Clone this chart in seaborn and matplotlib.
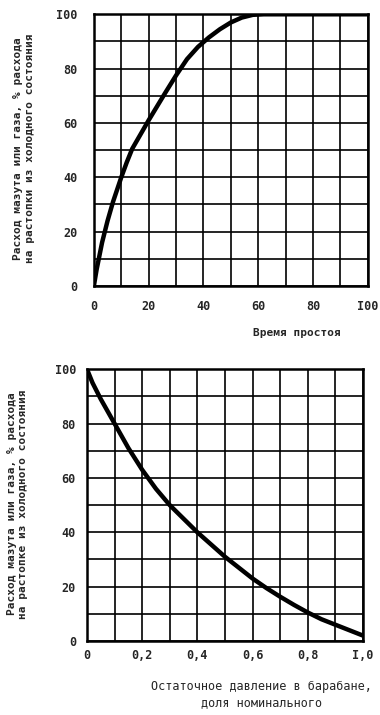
import matplotlib
matplotlib.use("Agg")
import matplotlib.pyplot as plt
import seaborn as sns
import pandas as pd
import numpy as np

# Top chart: idle time vs fuel consumption
idle_time = [0, 1, 2, 3, 5, 7, 10, 12, 14, 16, 18, 20, 23, 26, 30, 34, 38, 42, 46, 50, 54, 58, 62, 70, 80, 90, 100]
fuel_top = [0, 6, 11, 16, 24, 31, 40, 45.5, 50.5, 54, 57.5, 61, 66, 71, 77.5, 83.5, 88, 91.5, 94.5, 97, 98.8, 99.8, 100, 100, 100, 100, 100]
top_xticklabels = ["0", "20", "40", "60", "80", "I00"]
top_yticklabels = ["0", "20", "40", "60", "80", "I00"]

# Bottom chart: residual drum pressure vs fuel consumption
pressure = [0, 0.02, 0.05, 0.075, 0.1, 0.125, 0.15, 0.2, 0.25, 0.3, 0.35, 0.4, 0.45, 0.5,
            0.55, 0.6, 0.65, 0.7, 0.75, 0.8, 0.85, 0.9, 0.95, 1.0]
fuel_bottom = [100, 95, 89, 84.5, 80, 75.5, 71, 63, 56, 50, 45, 40, 35.5, 31,
               27, 23, 19.5, 16.3, 13.3, 10.5, 8, 6, 4, 2]
bot_xticklabels = ["0", "0,2", "0,4", "0,6", "0,8", "I,0"]
bot_yticklabels = ["0", "20", "40", "60", "80", "I00"]

sns.set_theme(style="white")
plt.rcParams['font.family'] = ['DejaVu Sans Mono', 'DejaVu Sans']

fig = plt.figure(figsize=(3.8, 7.15), dpi=100)
ax1 = fig.add_axes([0.247, 0.600, 0.721, 0.380])
ax2 = fig.add_axes([0.229, 0.1035, 0.726, 0.380])

df1 = pd.DataFrame({"t": idle_time, "q": fuel_top})
df2 = pd.DataFrame({"p": pressure, "q": fuel_bottom})

sns.lineplot(data=df1, x="t", y="q", ax=ax1, color="black", linewidth=3.2)
sns.lineplot(data=df2, x="p", y="q", ax=ax2, color="black", linewidth=3.2)

def style(ax, xmax, xlabels, ylabels, xpad, ypad):
    ax.set_xlim(0, xmax)
    ax.set_ylim(0, 100)
    ax.set_xticks(np.linspace(0, xmax, 11))
    ax.set_yticks(np.arange(0, 101, 10))
    xl = [xlabels[i // 2] if i % 2 == 0 else "" for i in range(11)]
    yl = [ylabels[i // 2] if i % 2 == 0 else "" for i in range(11)]
    ax.set_xticklabels(xl, fontsize=8.5, fontweight="bold")
    ax.set_yticklabels(yl, fontsize=8.5, fontweight="bold")
    ax.grid(True, color="black", linewidth=1.2)
    ax.tick_params(axis="both", length=0)
    ax.tick_params(axis="x", pad=xpad)
    ax.tick_params(axis="y", pad=ypad)
    for s in ax.spines.values():
        s.set_color("black")
        s.set_linewidth(1.8)
    ax.set_xlabel("")
    ax.set_ylabel("")

style(ax1, 100, top_xticklabels, top_yticklabels, 10, 12)
style(ax2, 1.0, bot_xticklabels, bot_yticklabels, 6, 8)

fig.text(0.063, 0.792, "Расход мазута или газа, % расхода\nна растопки из холодного состояния",
         rotation=90, ha="center", va="center", fontsize=8, fontweight="bold",
         linespacing=1.2)
fig.text(0.046, 0.295, "Расход мазута или газа, % расхода\nна растопке из холодного состояния",
         rotation=90, ha="center", va="center", fontsize=8, fontweight="bold",
         linespacing=1.2)

fig.text(0.782, 0.534, "Время простоя", ha="center", va="center", fontsize=8, fontweight="bold")
fig.text(0.689, 0.029, "Остаточное давление в барабане,\nдоля номинального", ha="center", va="center",
         fontsize=8.5, linespacing=1.3)

fig.savefig("out.png", dpi=100, facecolor="white")
